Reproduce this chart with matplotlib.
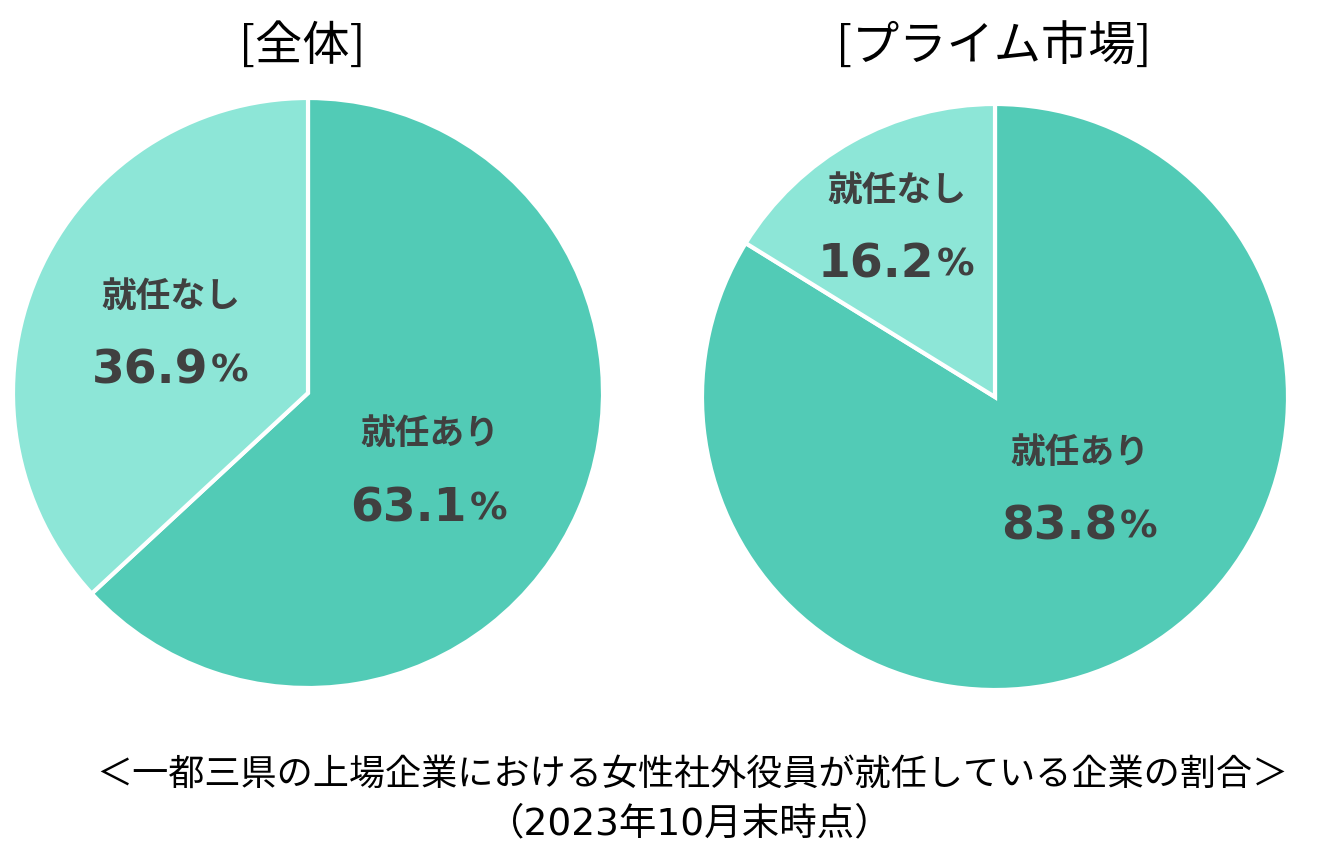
import matplotlib.pyplot as plt

plt.rcParams['font.family'] = ['Noto Sans CJK JP', 'DejaVu Sans']

# data
titles = ['[全体]', '[プライム市場]']
categories = ['就任あり', '就任なし']
values_all = [63.1, 36.9]
values_prime = [83.8, 16.2]
colors = ['#52CBB6', '#8DE6D7']
note_line1 = '＜一都三県の上場企業における女性社外役員が就任している企業の割合＞'
note_line2 = '（2023年10月末時点）'

W, H = 1331, 867
fig = plt.figure(figsize=(W / 100, H / 100), dpi=100)
ax = fig.add_axes([0, 0, 1, 1])

pies = [
    # values, center (px), radius, title pos, label positions (あり, なし)
    (values_all, (308, H - 393), 295, (302, H - 47), [(430, H - 433), (171, H - 296)]),
    (values_prime, (995, H - 397), 293, (994, H - 47), [(1080, H - 452), (897, H - 190)]),
]

for (vals, center, r, tpos, lpos), title in zip(pies, titles):
    ax.pie(vals, colors=colors, startangle=90, counterclock=False,
           center=center, radius=r, frame=True,
           wedgeprops=dict(edgecolor='white', linewidth=3))
    ax.text(tpos[0], tpos[1], title, ha='center', va='center', fontsize=34, color='black')
    for cat, v, (x, y) in zip(categories, vals, lpos):
        ax.text(x, y, cat, ha='center', va='center', fontsize=25,
                fontweight='bold', color='#404040')
        ax.text(x + 37, y - 88, f'{v:.1f}', ha='right', va='baseline', fontsize=34,
                fontweight='bold', color='#404040', family='DejaVu Sans')
        ax.text(x + 40, y - 86, '%', ha='left', va='baseline', fontsize=27,
                fontweight='bold', color='#404040', family='DejaVu Sans')

ax.set_xlim(0, W)
ax.set_ylim(0, H)
ax.set_aspect('equal')
ax.axis('off')

ax.text(692, H - 775, note_line1, ha='center', va='center', fontsize=26, color='black')
ax.text(690, H - 824, note_line2, ha='center', va='center', fontsize=27, color='black',
        family=['DejaVu Sans', 'Noto Sans CJK JP'])

fig.savefig('out.png', dpi=100)
